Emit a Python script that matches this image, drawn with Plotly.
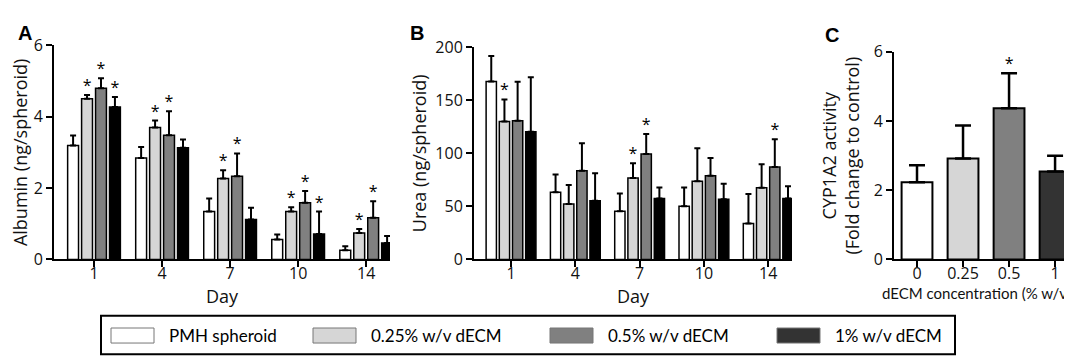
import plotly.graph_objects as go

# ---------------- data ----------------
days = ["1", "4", "7", "10", "14"]
series_names = ["PMH spheroid", "0.25% w/v dECM", "0.5% w/v dECM", "1% w/v dECM"]

alb_white = [3.19, 2.84, 1.34, 0.56, 0.26]
alb_light = [4.50, 3.70, 2.27, 1.34, 0.74]
alb_dark = [4.80, 3.48, 2.33, 1.59, 1.17]
alb_black = [4.27, 3.13, 1.12, 0.71, 0.46]
alb_white_sd = [0.28, 0.31, 0.37, 0.14, 0.11]
alb_light_sd = [0.11, 0.19, 0.23, 0.12, 0.11]
alb_dark_sd = [0.28, 0.67, 0.64, 0.33, 0.46]
alb_black_sd = [0.28, 0.23, 0.33, 0.63, 0.20]
alb_sig = [[0, 0, 0, 0, 0], [1, 1, 1, 1, 1], [1, 1, 1, 1, 1], [1, 0, 0, 1, 0]]

urea_white = [167.6, 63.4, 45.4, 50.1, 33.9]
urea_light = [130.0, 52.2, 76.7, 73.7, 67.6]
urea_dark = [130.7, 83.5, 99.4, 78.8, 87.0]
urea_black = [120.4, 55.3, 57.5, 56.8, 57.5]
urea_white_sd = [24.1, 16.6, 16.8, 17.7, 27.8]
urea_light_sd = [20.7, 18.0, 13.9, 31.0, 22.1]
urea_dark_sd = [36.8, 25.9, 18.9, 16.8, 26.3]
urea_black_sd = [51.3, 25.8, 10.3, 14.6, 11.5]
urea_sig = [[0, 0, 0, 0, 0], [1, 0, 1, 0, 0], [0, 0, 1, 0, 1], [0, 0, 0, 0, 0]]

conc_labels = ["0", "0.25", "0.5", "1"]
cyp_mean = [2.23, 2.92, 4.37, 2.54]
cyp_sd = [0.49, 0.95, 1.01, 0.46]
cyp_sig = [0, 0, 1, 0]

# ---------------- style ----------------
W, H = 1072, 362
colors_ab = ["#ffffff", "#d6d6d6", "#808080", "#000000"]
colors_c = ["#ffffff", "#d6d6d6", "#808080", "#333333"]
offsets = [-0.3075, -0.1025, 0.1025, 0.3075]
bar_w = 0.16
FONT = "Open Sans"
TICKFONT = dict(family=FONT, size=16, color="#111111")
TITLEFONT = dict(family=FONT, size=18, color="#111111")

def px_x(p):
    return p / W

def px_y(p):
    return 1 - p / H

fig = go.Figure()

def add_group_panel(means, sds, sigs, xa, ya):
    for k in range(4):
        xs = [i + offsets[k] for i in range(len(days))]
        fig.add_trace(go.Bar(
            x=xs, y=means[k], width=bar_w, xaxis=xa, yaxis=ya,
            marker=dict(color=colors_ab[k], line=dict(color="black", width=1.5)),
            error_y=dict(type="data", symmetric=False, array=sds[k],
                         arrayminus=[0] * len(days), color="black",
                         thickness=2, width=3),
            showlegend=False, hoverinfo="skip"))
        sx = [xs[i] for i in range(len(days)) if sigs[k][i]]
        sy = [means[k][i] + sds[k][i] for i in range(len(days)) if sigs[k][i]]
        if sx:
            fig.add_trace(go.Scatter(
                x=sx, y=sy, mode="text", text=["*"] * len(sx),
                textposition="top center", xaxis=xa, yaxis=ya,
                textfont=dict(family=FONT, size=16, color="black"),
                showlegend=False, hoverinfo="skip"))

add_group_panel([alb_white, alb_light, alb_dark, alb_black],
                [alb_white_sd, alb_light_sd, alb_dark_sd, alb_black_sd],
                alb_sig, "x", "y")
add_group_panel([urea_white, urea_light, urea_dark, urea_black],
                [urea_white_sd, urea_light_sd, urea_dark_sd, urea_black_sd],
                urea_sig, "x2", "y2")

# panel C
xc = list(range(len(conc_labels)))
fig.add_trace(go.Bar(
    x=xc, y=cyp_mean, width=0.67, xaxis="x3", yaxis="y3",
    marker=dict(color=colors_c, line=dict(color="black", width=2)),
    error_y=dict(type="data", symmetric=False, array=cyp_sd,
                 arrayminus=[0] * 4, color="black", thickness=2.5, width=8),
    showlegend=False, hoverinfo="skip"))
fig.add_trace(go.Scatter(
    x=[xc[i] for i in range(4) if cyp_sig[i]],
    y=[cyp_mean[i] + cyp_sd[i] for i in range(4) if cyp_sig[i]],
    mode="text", text=["*"], textposition="top center",
    textfont=dict(family=FONT, size=16, color="black"),
    xaxis="x3", yaxis="y3", showlegend=False, hoverinfo="skip"))

axis_common = dict(showline=True, linecolor="black", linewidth=2, ticks="outside",
                   ticklen=6, tickwidth=2, tickcolor="black", showgrid=False,
                   zeroline=False, tickfont=TICKFONT, fixedrange=True)
xaxis_extra = dict(ticklabelstandoff=-8)
ydom_bottom = px_y(256)

layout = dict(
    width=W, height=H, margin=dict(l=0, r=0, t=0, b=0),
    paper_bgcolor="white", plot_bgcolor="white", barmode="overlay",
    showlegend=False, font=dict(family=FONT, color="#111111"),
    xaxis=dict(axis_common, **xaxis_extra, domain=[px_x(46), px_x(382)], anchor="y",
               range=[-0.588, 4.35], tickvals=list(range(5)), ticktext=days,
               title=dict(text="Day", font=TITLEFONT, standoff=0)),
    yaxis=dict(axis_common, domain=[ydom_bottom, px_y(28)], anchor="x",
               range=[0, 6], tickvals=[0, 2, 4, 6],
               title=dict(text="Albumin (ng/spheroid)", font=TITLEFONT, standoff=4)),
    xaxis2=dict(axis_common, **xaxis_extra, domain=[px_x(466), px_x(784)], anchor="y2",
                range=[-0.576, 4.37], tickvals=list(range(5)), ticktext=days,
                title=dict(text="Day", font=TITLEFONT, standoff=0)),
    yaxis2=dict(axis_common, domain=[ydom_bottom, px_y(30)], anchor="x2",
                range=[0, 200], tickvals=[0, 50, 100, 150, 200],
                title=dict(text="Urea (ng/spheroid)", font=TITLEFONT, standoff=4)),
    xaxis3=dict(axis_common, **xaxis_extra, domain=[px_x(886), px_x(1071)], anchor="y3",
                range=[-0.5, 3.52], tickvals=xc, ticktext=conc_labels),
    yaxis3=dict(axis_common, domain=[ydom_bottom, px_y(35)], anchor="x3",
                range=[0, 6], tickvals=[0, 2, 4, 6],
                title=dict(text="CYP1A2 activity<br>(Fold change to control)",
                           font=TITLEFONT, standoff=9)),
)
fig.update_layout(**layout)

# panel C x-axis title (narrower font, kept inside the page)
fig.add_annotation(x=px_x(968), y=px_y(292), xref="paper", yref="paper",
                   xanchor="center", yanchor="middle", showarrow=False,
                   text="dECM concentration (% w/v)",
                   font=dict(family="Lato", size=15, color="#111111"))

# panel letters
for letter, xp, yp in [("A", 8, 1), ("B", 400, 1), ("C", 815, 3)]:
    fig.add_annotation(x=px_x(xp), y=px_y(yp), xref="paper", yref="paper",
                       xanchor="left", yanchor="top", showarrow=False,
                       text="<b>%s</b>" % letter,
                       font=dict(family="Liberation Sans", size=20, color="black"))

# legend box (custom, wide swatches)
box_l, box_r, box_t, box_b = 93, 947, 316, 357
fig.add_shape(type="rect", xref="paper", yref="paper",
              x0=px_x(box_l), x1=px_x(box_r), y0=px_y(box_b), y1=px_y(box_t),
              line=dict(color="black", width=2), fillcolor="rgba(0,0,0,0)")
sw_x = [103, 305, 542, 769]
for k in range(4):
    fig.add_shape(type="rect", xref="paper", yref="paper",
                  x0=px_x(sw_x[k]), x1=px_x(sw_x[k] + 43),
                  y0=px_y(345), y1=px_y(329),
                  line=dict(color="#777777", width=1), fillcolor=colors_c[k])
    fig.add_annotation(x=px_x(sw_x[k] + 56), y=px_y(337), xref="paper", yref="paper",
                       xanchor="left", yanchor="middle", showarrow=False,
                       text=series_names[k],
                       font=dict(family="Lato", size=17, color="black"))

fig.write_html("out.html")
